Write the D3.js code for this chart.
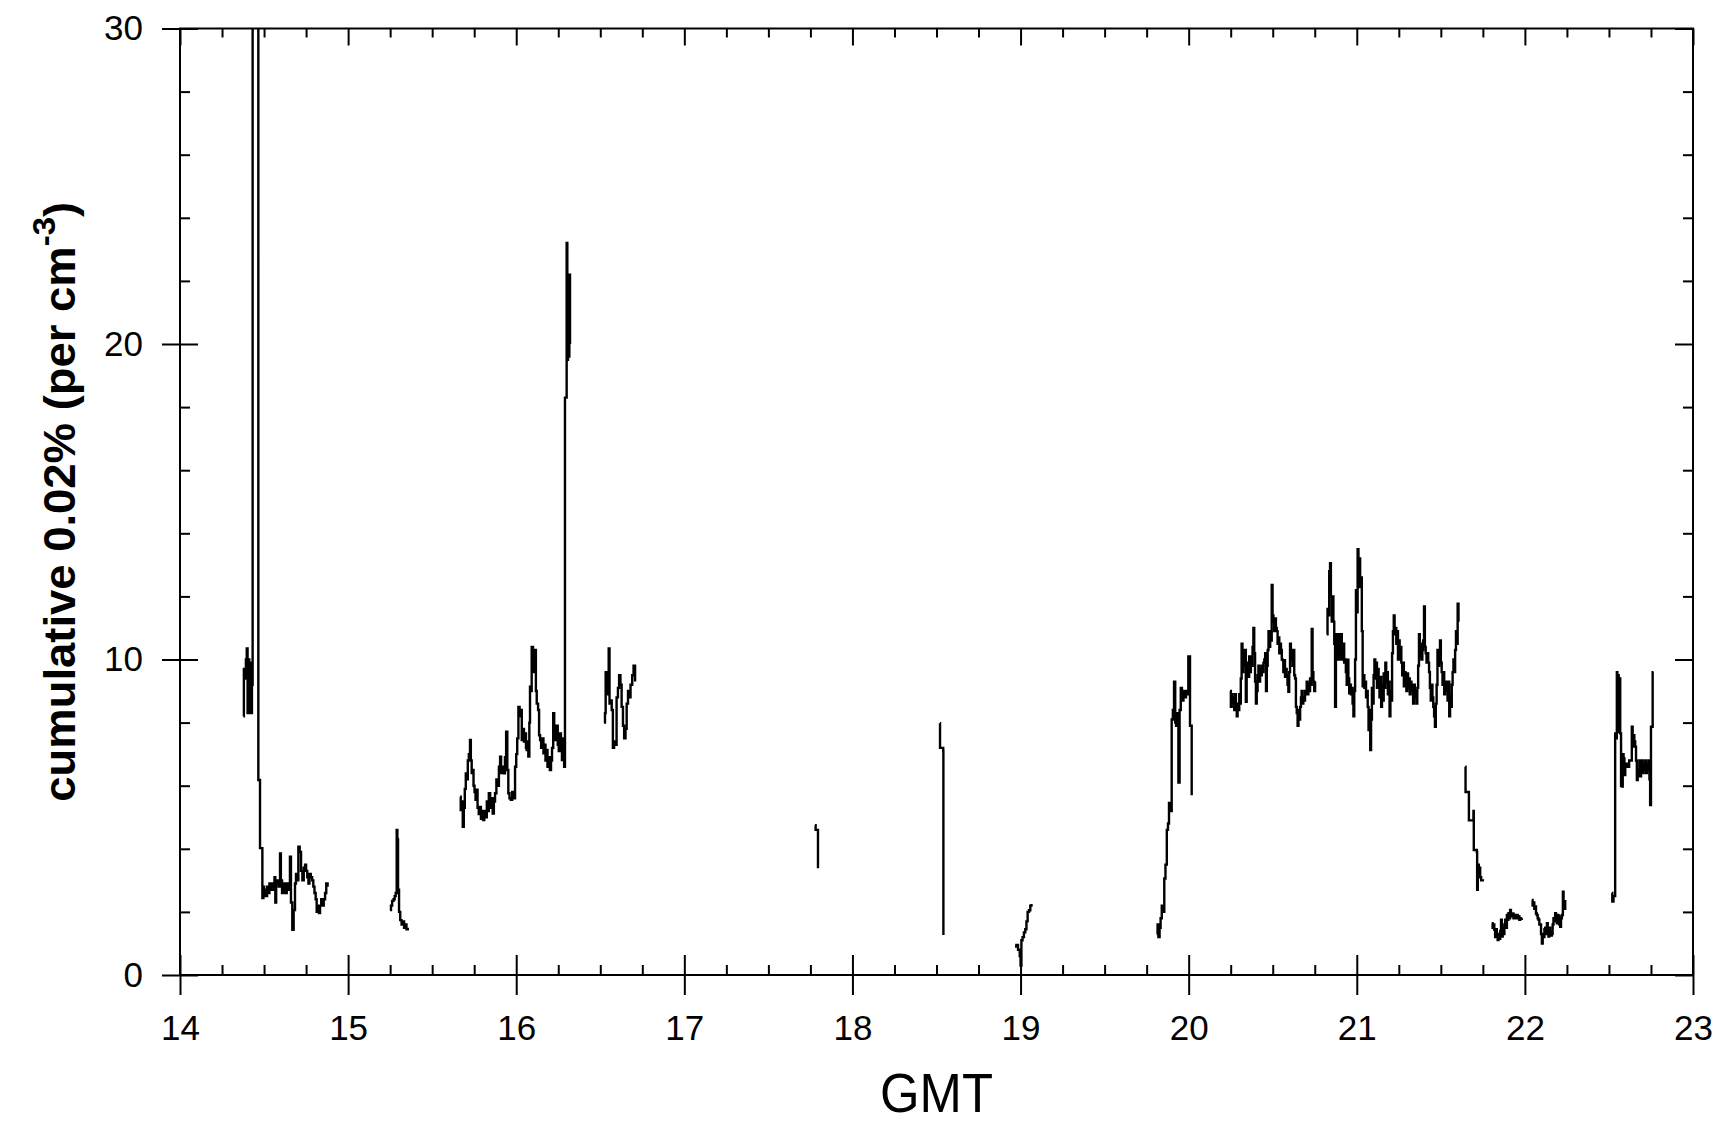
<html>
<head>
<meta charset="utf-8">
<style>
    html, body {
      margin: 0;
      padding: 0;
      background: #fff;
    }
    svg {
      display: block;
    }
    .tick text {
      font-family: "Liberation Sans", Arial, sans-serif;
      font-size: 35px;
      fill: #000;
    }
    .tick line {
      stroke: #000;
      stroke-width: 2;
    }
    .trace {
      fill: none;
      stroke: #000;
      stroke-width: 2.4;
    }
</style>
</head>
<body>
<script src="https://d3js.org/d3.v7.min.js"></script>
<script>
// tick values
const xMajor = [14, 15, 16, 17, 18, 19, 20, 21, 22, 23]
const xMinor = [14.25, 14.5, 14.75, 15.25, 15.5, 15.75, 16.25, 16.5, 16.75, 17.25, 17.5, 17.75,
                18.25, 18.5, 18.75, 19.25, 19.5, 19.75, 20.25, 20.5, 20.75, 21.25, 21.5, 21.75,
                22.25, 22.5, 22.75]
const yMajor = [0, 10, 20, 30]
const yMinor = [2, 4, 6, 8, 12, 14, 16, 18, 22, 24, 26, 28]

// axis titles
const xTitle = "GMT"
const yTitleMain = "cumulative 0.02% (per cm"
const yTitleSup = "-3"
const yTitleEnd = ")"

// data: [GMT hour, cumulative count per cm^3], one array per unbroken stretch of record
// (45 at 14.43 is off scale, the trace runs out through the top of the frame)
const seg1 = [[14.377,8.2],[14.38,9.7],[14.386,9.4],[14.392,10.0],[14.397,10.35],[14.402,8.3],[14.407,10.0],
  [14.412,8.3],[14.417,9.9],[14.422,8.3],[14.428,9.2],[14.432,45],[14.466,6.18],[14.476,4.02],[14.49,2.44],
  [14.496,2.8],[14.50,2.5],[14.506,2.7],[14.512,2.5],[14.518,2.8],[14.525,2.6],[14.532,2.9],[14.54,2.7],
  [14.547,2.9],[14.555,2.7],[14.562,3.1],[14.567,2.3],[14.572,2.9],[14.58,3.0],[14.587,2.8],[14.595,3.85],
  [14.6,3.0],[14.607,2.6],[14.615,2.9],[14.625,2.6],[14.635,2.9],[14.645,2.7],[14.654,3.75],[14.66,2.3],
  [14.668,1.43],[14.676,2.06],[14.684,2.9],[14.69,3.2],[14.697,3.0],[14.704,4.07],[14.712,3.9],[14.72,3.3],
  [14.728,3.0],[14.736,3.4],[14.744,3.5],[14.75,3.3],[14.757,3.1],[14.764,2.9],[14.77,3.2],[14.778,3.1],
  [14.786,3.0],[14.793,2.8],[14.8,2.6],[14.807,2.4],[14.813,2.0],[14.82,2.2],[14.827,1.96],[14.833,2.2],
  [14.84,2.4],[14.847,2.2],[14.855,2.4],[14.863,2.6],[14.87,2.9],[14.878,2.8]]

const seg2 = [[15.249,2.06],[15.255,2.2],[15.262,2.35],[15.27,2.4],[15.277,2.5],[15.283,2.6],[15.289,4.6],
  [15.293,4.3],[15.297,2.7],[15.303,2.0],[15.31,1.74],[15.318,1.6],[15.325,1.7],[15.333,1.5],[15.34,1.6],
  [15.347,1.45],[15.355,1.5]]

const seg3 = [[15.666,5.65],[15.67,5.23],[15.676,5.5],[15.682,4.7],[15.688,5.3],[15.694,5.9],[15.70,6.39],
  [15.706,6.2],[15.712,6.8],[15.718,7.0],[15.725,7.45],[15.73,6.8],[15.735,6.4],[15.74,6.5],[15.746,6.0],
  [15.752,5.8],[15.758,5.55],[15.764,5.87],[15.77,5.3],[15.777,5.1],[15.785,5.33],[15.79,4.95],[15.797,5.2],
  [15.803,4.91],[15.81,5.2],[15.815,5.0],[15.825,5.5],[15.83,5.2],[15.837,5.76],[15.845,5.3],[15.852,5.6],
  [15.86,5.12],[15.867,5.5],[15.874,5.76],[15.882,6.2],[15.89,6.0],[15.897,6.6],[15.904,6.92],[15.91,6.4],
  [15.918,6.6],[15.925,6.39],[15.933,6.9],[15.94,7.71],[15.947,6.5],[15.953,5.76],[15.96,5.6],[15.968,5.55],
  [15.976,5.8],[15.983,5.6],[15.993,6.6],[16.0,7.0],[16.006,7.5],[16.013,8.5],[16.02,8.2],[16.027,8.4],
  [16.033,7.45],[16.04,7.8],[16.046,7.4],[16.052,7.66],[16.058,7.2],[16.062,7.13],[16.067,7.4],[16.072,6.92],
  [16.078,8.0],[16.082,9.14],[16.088,9.0],[16.092,10.4],[16.1,10.2],[16.106,9.6],[16.112,10.3],[16.117,9.0],
  [16.122,8.6],[16.13,8.4],[16.136,7.6],[16.142,7.45],[16.148,7.2],[16.155,7.5],[16.162,7.03],[16.168,7.3],
  [16.174,6.8],[16.18,7.13],[16.186,6.6],[16.193,6.9],[16.2,6.5],[16.207,6.8],[16.213,7.2],[16.22,8.3],
  [16.226,7.8],[16.233,7.45],[16.24,7.9],[16.247,7.3],[16.253,7.1],[16.26,7.66],[16.266,7.2],[16.272,6.81],
  [16.278,7.5],[16.285,6.6],[16.29,18.3],[16.3,23.2],[16.304,19.5],[16.308,22.0],[16.312,19.6],[16.316,22.2],
  [16.32,20.0]]

const seg4 = [[16.522,8.0],[16.528,8.3],[16.532,9.6],[16.54,8.9],[16.546,9.5],[16.55,10.35],[16.555,8.6],
  [16.562,8.7],[16.568,8.4],[16.575,7.2],[16.582,7.4],[16.59,7.3],[16.597,8.8],[16.605,9.1],[16.612,9.5],
  [16.62,9.2],[16.627,8.5],[16.635,7.9],[16.642,7.5],[16.65,7.8],[16.657,8.6],[16.665,9.0],[16.672,8.8],
  [16.68,9.2],[16.69,9.5],[16.698,9.8],[16.707,9.3]]

const seg5 = [[17.777,4.75],[17.781,4.6],[17.792,4.6],[17.795,3.38]]

const seg6 = [[18.52,7.98],[18.521,7.2],[18.54,7.1],[18.541,1.27]]

const seg7 = [[18.967,0.9],[18.975,0.95],[18.985,0.8],[18.995,0.6],[19.0,0.3],[19.005,1.1],[19.012,1.2],
  [19.02,1.35],[19.028,1.45],[19.035,1.7],[19.042,2.0],[19.05,2.05],[19.058,2.2],[19.065,2.25]]

const seg8 = [[19.81,1.3],[19.815,1.6],[19.82,1.2],[19.827,1.5],[19.833,1.8],[19.84,2.2],[19.847,2.0],
  [19.855,3.06],[19.862,3.5],[19.87,4.6],[19.877,4.8],[19.883,5.45],[19.89,5.2],[19.899,8.1],[19.906,8.4],
  [19.913,9.3],[19.92,8.0],[19.925,7.9],[19.932,8.3],[19.939,6.1],[19.946,8.4],[19.953,9.1],[19.96,8.7],
  [19.969,9.0],[19.976,8.8],[19.984,9.0],[19.991,8.9],[19.998,10.1],[20.008,7.9],[20.018,5.7]]

const seg9 = [[20.246,9.0],[20.251,8.5],[20.256,8.9],[20.261,8.6],[20.266,8.8],[20.271,8.4],[20.276,8.9],
  [20.281,8.5],[20.286,8.2],[20.291,8.6],[20.296,8.4],[20.301,8.9],[20.306,8.6],[20.31,9.4],[20.315,10.5],
  [20.32,9.6],[20.325,10.3],[20.33,9.8],[20.335,10.3],[20.34,8.66],[20.345,9.5],[20.35,9.9],[20.355,9.45],
  [20.36,10.1],[20.365,9.6],[20.37,10.1],[20.375,9.8],[20.38,10.4],[20.385,11.0],[20.39,10.2],[20.395,9.3],
  [20.40,8.6],[20.405,9.0],[20.41,9.5],[20.415,9.8],[20.42,9.3],[20.425,9.7],[20.43,9.5],[20.435,9.8],
  [20.44,9.6],[20.445,9.9],[20.45,10.0],[20.455,10.2],[20.46,9.0],[20.465,9.8],[20.47,10.3],[20.475,10.9],
  [20.48,10.4],[20.485,10.9],[20.49,10.6],[20.494,12.36],[20.499,11.4],[20.504,11.2],[20.509,10.9],
  [20.514,11.3],[20.519,11.0],[20.524,10.9],[20.529,10.5],[20.534,10.7],[20.539,10.2],[20.544,10.5],
  [20.549,10.3],[20.554,10.0],[20.559,9.98],[20.563,9.6],[20.568,9.98],[20.573,9.45],[20.578,9.7],
  [20.583,9.5],[20.588,9.2],[20.593,8.98],[20.598,9.6],[20.603,10.5],[20.608,10.0],[20.613,10.3],
  [20.618,9.8],[20.623,10.3],[20.628,9.5],[20.633,9.4],[20.638,8.5],[20.643,8.3],[20.648,7.9],[20.653,8.4],
  [20.658,8.1],[20.663,8.5],[20.668,8.8],[20.672,9.0],[20.677,8.6],[20.682,8.8],[20.687,8.7],[20.692,9.0],
  [20.697,8.9],[20.702,9.3],[20.707,8.9],[20.712,9.2],[20.717,9.0],[20.722,9.4],[20.727,9.2],[20.732,10.97],
  [20.737,9.6],[20.742,9.3],[20.747,9.0],[20.752,9.3]]

const seg10 = [[20.821,10.8],[20.826,11.6],[20.831,11.4],[20.836,12.8],[20.841,13.05],[20.846,12.0],
  [20.851,11.2],[20.856,12.0],[20.861,11.2],[20.866,10.5],[20.871,8.5],[20.876,10.8],[20.881,10.2],
  [20.886,10.0],[20.891,10.8],[20.896,10.3],[20.901,10.0],[20.906,10.8],[20.911,10.4],[20.916,10.0],
  [20.92,10.5],[20.925,9.9],[20.93,10.0],[20.935,9.6],[20.94,9.2],[20.945,9.99],[20.95,9.4],[20.955,8.93],
  [20.96,9.2],[20.965,8.9],[20.97,9.1],[20.975,8.6],[20.98,8.2],[20.985,9.0],[20.99,10.0],[20.995,12.2],
  [21.0,11.5],[21.005,13.5],[21.01,12.3],[21.015,13.2],[21.02,12.3],[21.025,12.6],[21.03,10.9],[21.035,9.15],
  [21.04,9.5],[21.045,9.1],[21.05,9.3],[21.055,8.8],[21.06,9.0],[21.065,8.5],[21.07,7.76],[21.075,8.4],
  [21.08,7.13],[21.085,8.1],[21.09,9.1],[21.095,8.6],[21.1,9.5],[21.105,10.0],[21.11,9.4],[21.115,9.9],
  [21.12,9.1],[21.125,9.7],[21.13,9.3],[21.135,8.8],[21.14,9.45],[21.145,8.5],[21.15,9.2],[21.155,8.7],
  [21.16,9.56],[21.165,9.1],[21.17,9.9],[21.175,9.3],[21.18,9.6],[21.185,8.9],[21.19,9.3],[21.195,8.2],
  [21.2,9.0],[21.205,8.7],[21.21,10.2],[21.215,10.9],[21.22,11.4],[21.225,10.8],[21.23,11.0],[21.235,10.5],
  [21.24,10.9],[21.245,10.0],[21.25,10.6],[21.255,10.0],[21.26,10.4],[21.265,9.9],[21.27,9.5],[21.275,9.9],
  [21.28,9.15],[21.285,9.6],[21.29,9.2],[21.295,9.0],[21.3,9.56],[21.305,9.1],[21.31,9.4],[21.315,8.9],
  [21.32,9.3],[21.325,9.0],[21.33,9.2],[21.335,8.6],[21.34,9.2],[21.345,8.8],[21.35,9.0],[21.355,8.6],
  [21.36,9.1],[21.365,9.8],[21.37,10.8],[21.375,10.1],[21.38,10.5],[21.385,10.0],[21.39,10.3],[21.395,10.6],
  [21.40,11.68],[21.405,10.4],[21.41,10.2],[21.415,9.9],[21.42,10.2],[21.425,9.9],[21.43,9.6],[21.435,9.1],
  [21.44,8.7],[21.445,9.2],[21.45,8.8],[21.455,8.5],[21.46,8.2],[21.465,7.87],[21.47,8.6],[21.475,9.2],
  [21.48,10.3],[21.485,9.8],[21.49,10.3],[21.495,10.6],[21.5,9.9],[21.505,9.6],[21.51,9.2],[21.515,9.6],
  [21.52,8.9],[21.525,9.3],[21.53,9.0],[21.535,9.3],[21.54,8.7],[21.545,9.3],[21.55,8.2],[21.555,8.9],
  [21.56,8.5],[21.565,9.2],[21.57,9.6],[21.575,10.0],[21.58,9.6],[21.585,10.3],[21.59,10.9],[21.595,10.5],
  [21.6,11.77],[21.605,11.2]]

const seg11 = [[21.645,6.6],[21.647,5.8],[21.665,5.8],[21.667,4.9],[21.694,5.2],[21.696,3.96],[21.714,3.9],
  [21.716,2.7],[21.72,3.5],[21.726,3.1],[21.73,3.4],[21.734,3.1],[21.74,3.0],[21.75,2.96]]

const seg12 = [[21.803,1.64],[21.808,1.5],[21.813,1.6],[21.818,1.43],[21.823,1.2],[21.828,1.45],[21.833,1.3],
  [21.838,1.11],[21.843,1.3],[21.848,1.15],[21.853,1.4],[21.858,1.75],[21.863,1.22],[21.868,1.5],[21.873,1.3],
  [21.878,1.6],[21.883,1.75],[21.888,1.5],[21.893,1.9],[21.898,1.75],[21.902,1.96],[21.907,1.8],[21.912,2.06],
  [21.917,1.9],[21.922,1.86],[21.927,1.95],[21.932,1.8],[21.937,1.9],[21.942,1.86],[21.947,1.8],[21.952,1.9],
  [21.957,1.8],[21.962,1.86],[21.967,1.75],[21.972,1.8],[21.977,1.78],[21.982,1.8]]

const seg13 = [[22.041,2.38],[22.046,2.2],[22.051,2.3],[22.056,2.1],[22.061,2.17],[22.066,1.95],[22.071,1.9],
  [22.076,1.8],[22.081,1.75],[22.086,1.6],[22.091,1.6],[22.096,1.3],[22.101,1.0],[22.106,1.3],[22.111,1.2],
  [22.116,1.45],[22.121,1.5],[22.126,1.3],[22.131,1.64],[22.136,1.4],[22.14,1.22],[22.145,1.5],[22.15,1.4],
  [22.155,1.25],[22.16,1.3],[22.165,1.6],[22.17,1.8],[22.175,1.7],[22.18,1.96],[22.185,1.8],[22.19,1.64],
  [22.195,1.9],[22.2,1.86],[22.205,1.6],[22.21,1.53],[22.215,1.8],[22.22,1.9],[22.226,2.64],[22.23,2.3],
  [22.234,2.1],[22.24,2.38]]

const seg14 = [[22.517,2.6],[22.52,2.33],[22.527,2.5],[22.537,7.66],[22.542,7.5],[22.547,9.6],[22.55,7.8],
  [22.554,9.5],[22.558,7.7],[22.562,9.4],[22.567,7.66],[22.572,6.0],[22.577,5.97],[22.582,7.0],[22.587,6.86],
  [22.592,6.34],[22.597,6.7],[22.606,6.6],[22.62,6.8],[22.636,7.87],[22.641,7.24],[22.646,7.6],[22.651,7.4],
  [22.656,7.24],[22.661,6.8],[22.666,6.18],[22.671,6.5],[22.676,6.3],[22.681,6.8],[22.686,6.3],[22.691,6.6],
  [22.696,6.8],[22.701,6.4],[22.706,6.7],[22.711,6.5],[22.716,6.8],[22.721,6.4],[22.726,6.7],[22.731,6.5],
  [22.736,6.8],[22.741,6.2],[22.745,5.39],[22.75,7.87],[22.755,7.87],[22.76,9.6],[22.765,9.6]]

const segments = [seg1, seg2, seg3, seg4, seg5, seg6, seg7, seg8, seg9, seg10, seg11, seg12, seg13, seg14]

//set-up
const width = 1718, height = 1127
const frame = {left: 180, right: 1693, top: 28.5, bottom: 975}

const svg = d3.select("body").append("svg")
    .attr("width", width)
    .attr("height", height)

let xScale = d3.scaleLinear().domain([14, 23]).range([frame.left, frame.right]),
    yScale = d3.scaleLinear().domain([0, 30]).range([frame.bottom, frame.top])

svg.append("clipPath").attr("id", "plotclip")
    .append("rect")
    .attr("x", frame.left)
    .attr("y", frame.top)
    .attr("width", frame.right - frame.left)
    .attr("height", frame.bottom - frame.top)

const line = d3.line()
    .x(d => xScale(d[0]))
    .y(d => yScale(d[1]))
    .curve(d3.curveStepAfter)

svg.append("g")
    .attr("clip-path", "url(#plotclip)")
    .selectAll("path")
    .data(segments)
    .join("path")
    .attr("class", "trace")
    .attr("d", line)

// axes, ticks point inward; major ticks on bottom & left cross the frame
const blank = () => ""
const addAxis = (axis, tx, ty) => {
    const g = svg.append("g").attr("transform", `translate(${tx},${ty})`).call(axis)
    g.select(".domain").remove()
    return g
}

addAxis(d3.axisBottom(xScale).tickValues(xMinor).tickSize(-10).tickFormat(blank), 0, frame.bottom)
addAxis(d3.axisBottom(xScale).tickValues(xMajor).tickSize(20).tickPadding(20).tickFormat(d3.format("d")), 0, frame.bottom)
    .selectAll(".tick line").attr("y1", -20)

addAxis(d3.axisTop(xScale).tickValues(xMinor).tickSize(-9).tickFormat(blank), 0, frame.top)
addAxis(d3.axisTop(xScale).tickValues(xMajor).tickSize(-17).tickFormat(blank), 0, frame.top)

addAxis(d3.axisLeft(yScale).tickValues(yMinor).tickSize(-10).tickFormat(blank), frame.left, 0)
addAxis(d3.axisLeft(yScale).tickValues(yMajor).tickSize(18).tickPadding(19).tickFormat(d3.format("d")), frame.left, 0)
    .selectAll(".tick line").attr("x1", 18)

addAxis(d3.axisRight(yScale).tickValues(yMinor).tickSize(-10).tickFormat(blank), frame.right, 0)
addAxis(d3.axisRight(yScale).tickValues(yMajor).tickSize(-18).tickFormat(blank), frame.right, 0)

svg.append("rect")
    .attr("x", frame.left)
    .attr("y", frame.top)
    .attr("width", frame.right - frame.left)
    .attr("height", frame.bottom - frame.top)
    .attr("fill", "none")
    .attr("stroke", "#000")
    .attr("stroke-width", 2)

// axis titles
const gmt = svg.append("text")
    .attr("font-family", "Liberation Sans, Arial, sans-serif")
    .attr("font-size", 55)
    .attr("text-anchor", "middle")
    .text(xTitle)
const gmtLen = gmt.node().getComputedTextLength()
gmt.attr("transform", `translate(${(frame.left + frame.right) / 2},1112) scale(${113 / gmtLen},1)`)

const ytitle = svg.append("text")
    .attr("font-family", "Liberation Sans, Arial, sans-serif")
    .attr("font-weight", "bold")
    .attr("font-size", 44)
    .attr("text-anchor", "middle")
ytitle.append("tspan").text(yTitleMain)
ytitle.append("tspan").attr("dy", -20).attr("font-size", 32).text(yTitleSup)
ytitle.append("tspan").attr("dy", 20).text(yTitleEnd)
const yLen = ytitle.node().getComputedTextLength()
ytitle.attr("transform", `translate(75,${(frame.top + frame.bottom) / 2}) rotate(-90) scale(${600 / yLen},1)`)
</script>
</body>
</html>
